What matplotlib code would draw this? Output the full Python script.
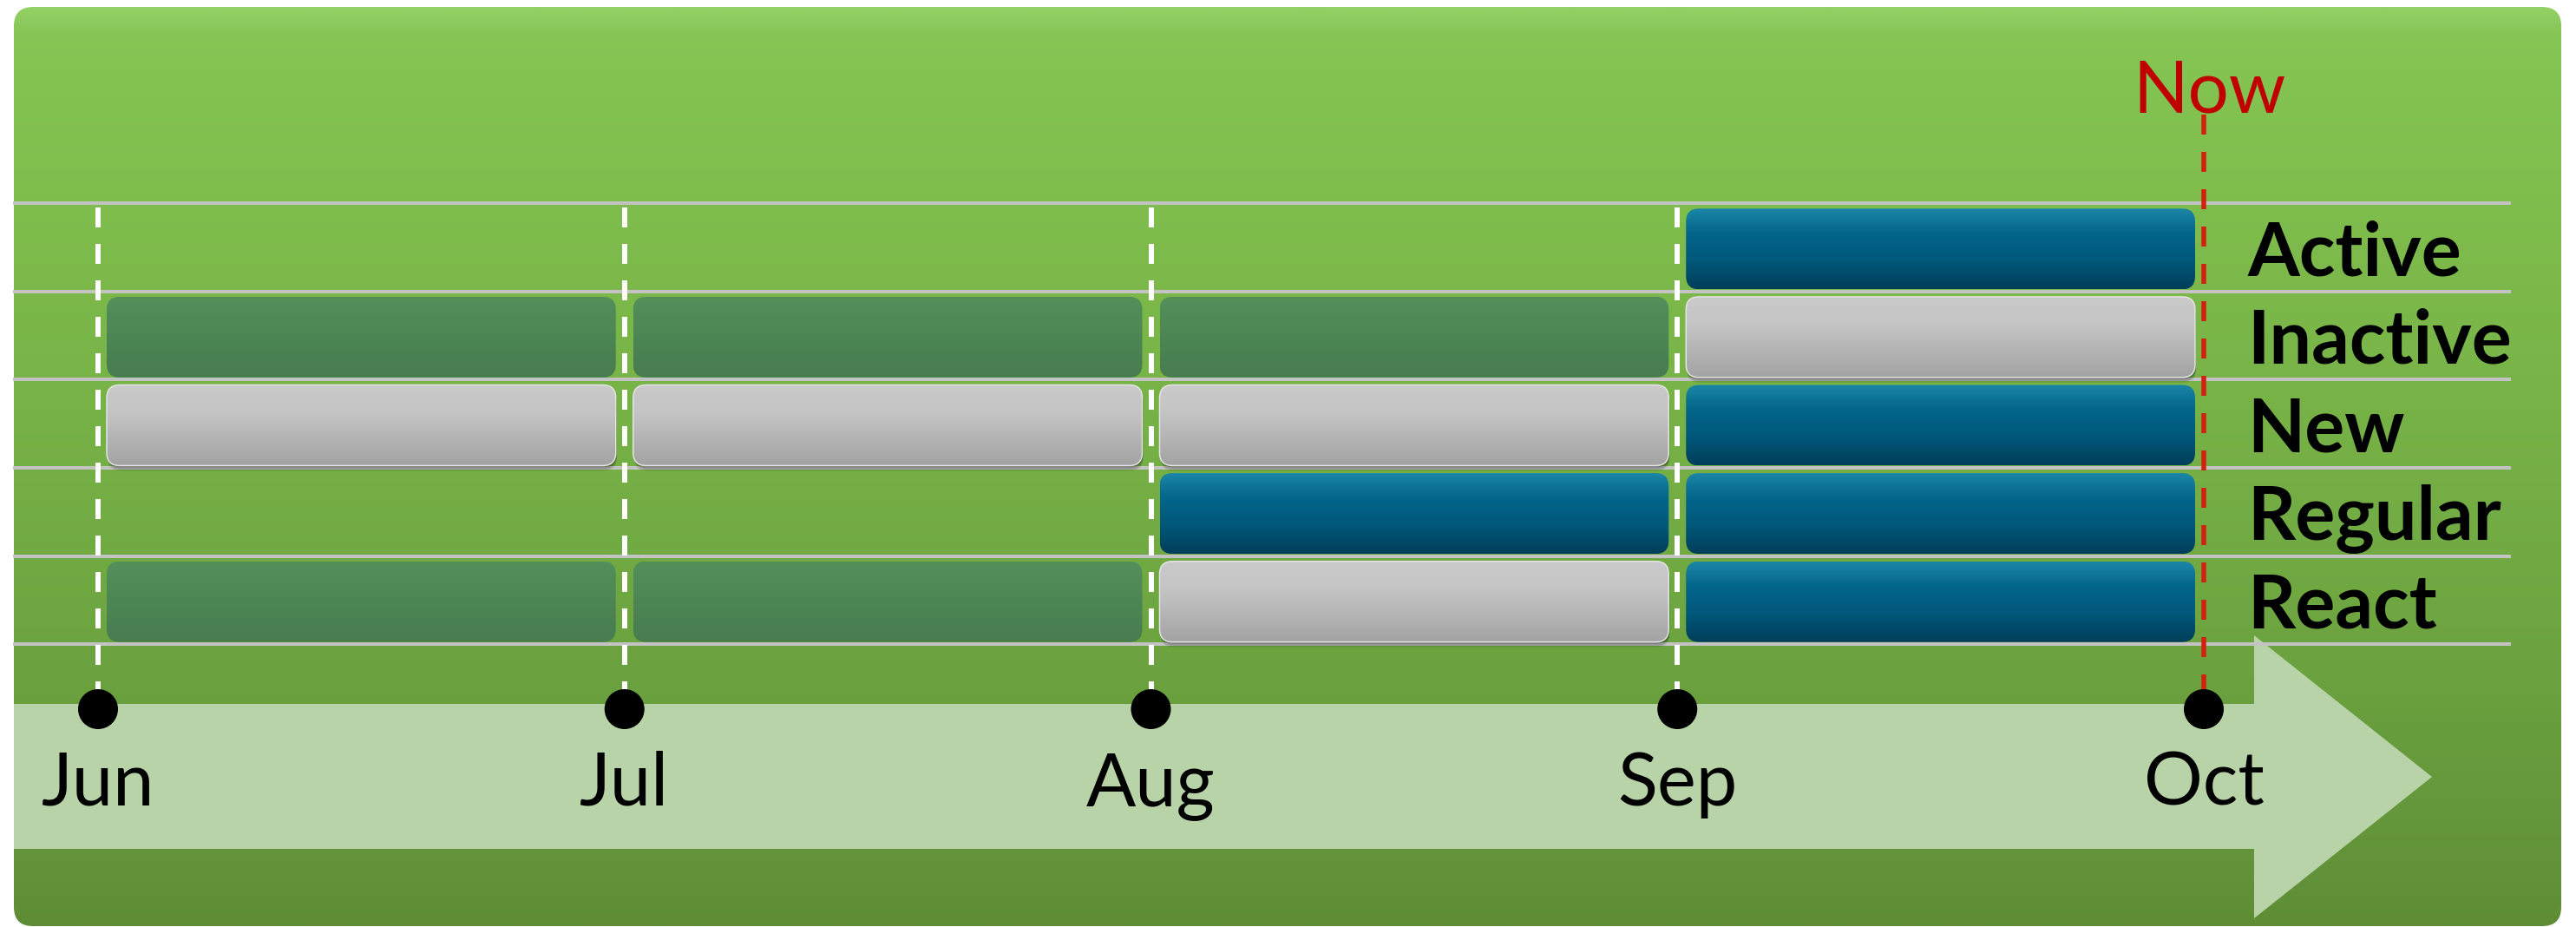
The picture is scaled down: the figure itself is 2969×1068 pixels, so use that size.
import numpy as np
import matplotlib
matplotlib.use('Agg')
import matplotlib.pyplot as plt
from matplotlib.patches import FancyBboxPatch, Polygon
from matplotlib.colors import LinearSegmentedColormap

# ---------------- data ----------------
months = ['Jun', 'Jul', 'Aug', 'Sep', 'Oct']
segments = ['Active', 'Inactive', 'New', 'Regular', 'React']
# state of each segment for each month interval (Jun-Jul, Jul-Aug, Aug-Sep, Sep-Oct)
# 'G' = dim green, 'S' = silver/grey, 'B' = blue, '' = none
active_states = ['', '', '', 'B']
inactive_states = ['G', 'G', 'G', 'S']
new_states = ['S', 'S', 'S', 'B']
regular_states = ['', '', 'B', 'B']
react_states = ['G', 'G', 'S', 'B']
now_label = 'Now'
now_month = 'Oct'

states = [active_states, inactive_states, new_states, regular_states, react_states]

# ---------------- layout ----------------
W, H, DPI = 2969, 1068, 100
X0_PX, MONTH_PX = 113.0, 606.75      # pixel x of first month, pixels per month
ROW0_PX, ROW_PX = 285.0, 101.6       # pixel y of first row centre, pixels per row
PX2PT = 72.0 / DPI

plt.rcParams['font.family'] = ['Lato', 'DejaVu Sans']
plt.rcParams['lines.scale_dashes'] = False

fig = plt.figure(figsize=(W / DPI, H / DPI), dpi=DPI, facecolor='white')
bg = fig.add_axes([0, 0, 1, 1])
bg.set_xlim(0, W)
bg.set_ylim(H, 0)
bg.axis('off')
bg.set_autoscale_on(False)

ax = fig.add_axes([0, 0, 1, 1])
ax.patch.set_alpha(0)
ax.axis('off')
ax.set_xlim(-X0_PX / MONTH_PX, (W - X0_PX) / MONTH_PX)
ax.set_ylim((H - ROW0_PX) / ROW_PX, -ROW0_PX / ROW_PX)
ax.set_autoscale_on(False)


def px_x(p):
    return (p - X0_PX) / MONTH_PX


def px_y(p):
    return (p - ROW0_PX) / ROW_PX


def vgrad(axis, x0, x1, ytop, ybot, stops, clip, z):
    cmap = LinearSegmentedColormap.from_list('g', stops)
    img = cmap(np.linspace(0, 1, 256))[:, None, :]
    im = axis.imshow(img, extent=(x0, x1, ybot, ytop), origin='upper',
                     aspect='auto', interpolation='bilinear', zorder=z)
    im.set_clip_path(clip)
    return im


# ---------------- background ----------------
bgpatch = FancyBboxPatch((16, 8), 2936, 1059, boxstyle='round,pad=0,rounding_size=22',
                         fc='none', ec='none', zorder=0)
bg.add_patch(bgpatch)
vgrad(bg, 16, 2952, 8, 1067,
      [(0.0, '#94d166'), (0.025, '#86c656'), (0.08, '#83c352'), (0.3, '#7cb94a'),
       (0.6, '#71aa43'), (0.75, '#6aa03e'), (0.93, '#62933a'), (1.0, '#5e8d35')],
      bgpatch, 0)

# timeline arrow
arrow = Polygon([(16, 811), (2598, 811), (2598, 732), (2803, 895), (2598, 1058),
                 (2598, 978), (16, 978)], closed=True, fc='#b9d3a8', ec='none', zorder=1)
bg.add_patch(arrow)

# ---------------- grid lines ----------------
for b in np.arange(len(segments) + 1) - 0.5:
    ax.plot([px_x(15), px_x(2894)], [b, b], color='#c3c3c3', lw=4 * PX2PT,
            solid_capstyle='butt', zorder=3)

TL = px_y(817)   # timeline position
month_idx = np.arange(len(months))
now_idx = months.index(now_month)

# dashed month lines
for i in month_idx:
    if i == now_idx:
        ax.plot([i, i], [px_y(132), TL], color='#d4200e', lw=5.5 * PX2PT,
                ls=(0, (23 * PX2PT, 20 * PX2PT)), dash_capstyle='butt', zorder=4)
    else:
        ax.plot([i, i], [px_y(239), TL], color='white', lw=6 * PX2PT,
                ls=(0, (23 * PX2PT, 19 * PX2PT)), dash_capstyle='butt', zorder=4)

# dots
ax.scatter(month_idx, np.full(len(months), TL), s=(46 * PX2PT) ** 2, c='black',
           edgecolors='none', zorder=7)

# ---------------- bars ----------------
ASP = MONTH_PX / ROW_PX
RS = 15 / MONTH_PX
PAD = 10 / MONTH_PX
styles = {
    'G': dict(stops=[(0, '#53905a'), (1, '#477c4f')], ec='none'),
    'S': dict(stops=[(0, '#cacaca'), (0.35, '#c4c4c4'), (1, '#a3a3a3')], ec='#e4e4e4'),
    'B': dict(stops=[(0, '#1c86a7'), (0.3, '#03668b'), (0.65, '#01587a'), (1, '#003e59')], ec='none'),
}
for r, row in enumerate(states):
    for j, st in enumerate(row):
        if not st:
            continue
        x0 = j + PAD
        w = 1 - 2 * PAD
        y0 = r - 0.44
        h = 0.915
        stl = styles[st]
        if st == 'S':
            for k, (dy, a) in enumerate([(6, 0.10), (4, 0.15), (2, 0.2)]):
                sh = FancyBboxPatch((x0 + 1 / MONTH_PX, y0 + dy / ROW_PX), w, h,
                                    boxstyle=f'round,pad=0,rounding_size={RS}',
                                    mutation_aspect=ASP, fc='black', ec='none',
                                    alpha=a, zorder=5)
                ax.add_patch(sh)
        p = FancyBboxPatch((x0, y0), w, h, boxstyle=f'round,pad=0,rounding_size={RS}',
                           mutation_aspect=ASP, fc='none', ec=stl['ec'],
                           lw=1.5 * PX2PT, zorder=5.2)
        ax.add_patch(p)
        vgrad(ax, x0, x0 + w, y0, y0 + h, stl['stops'], p, 5.1)

# ---------------- text ----------------
for i, m in zip(month_idx, months):
    ax.text(i, px_y(928), m, ha='center', va='baseline', fontsize=61, color='black', zorder=8)

for r, name in enumerate(segments):
    ax.text(px_x(2590), r + 32 / ROW_PX, name, ha='left', va='baseline', fontsize=62,
            fontweight='bold', color='black', zorder=8)

ax.text(now_idx + 7 / MONTH_PX, px_y(130), now_label, ha='center', va='baseline',
        fontsize=60, color='#c00000', zorder=8)

fig.savefig('out.png', dpi=DPI, facecolor='white')
